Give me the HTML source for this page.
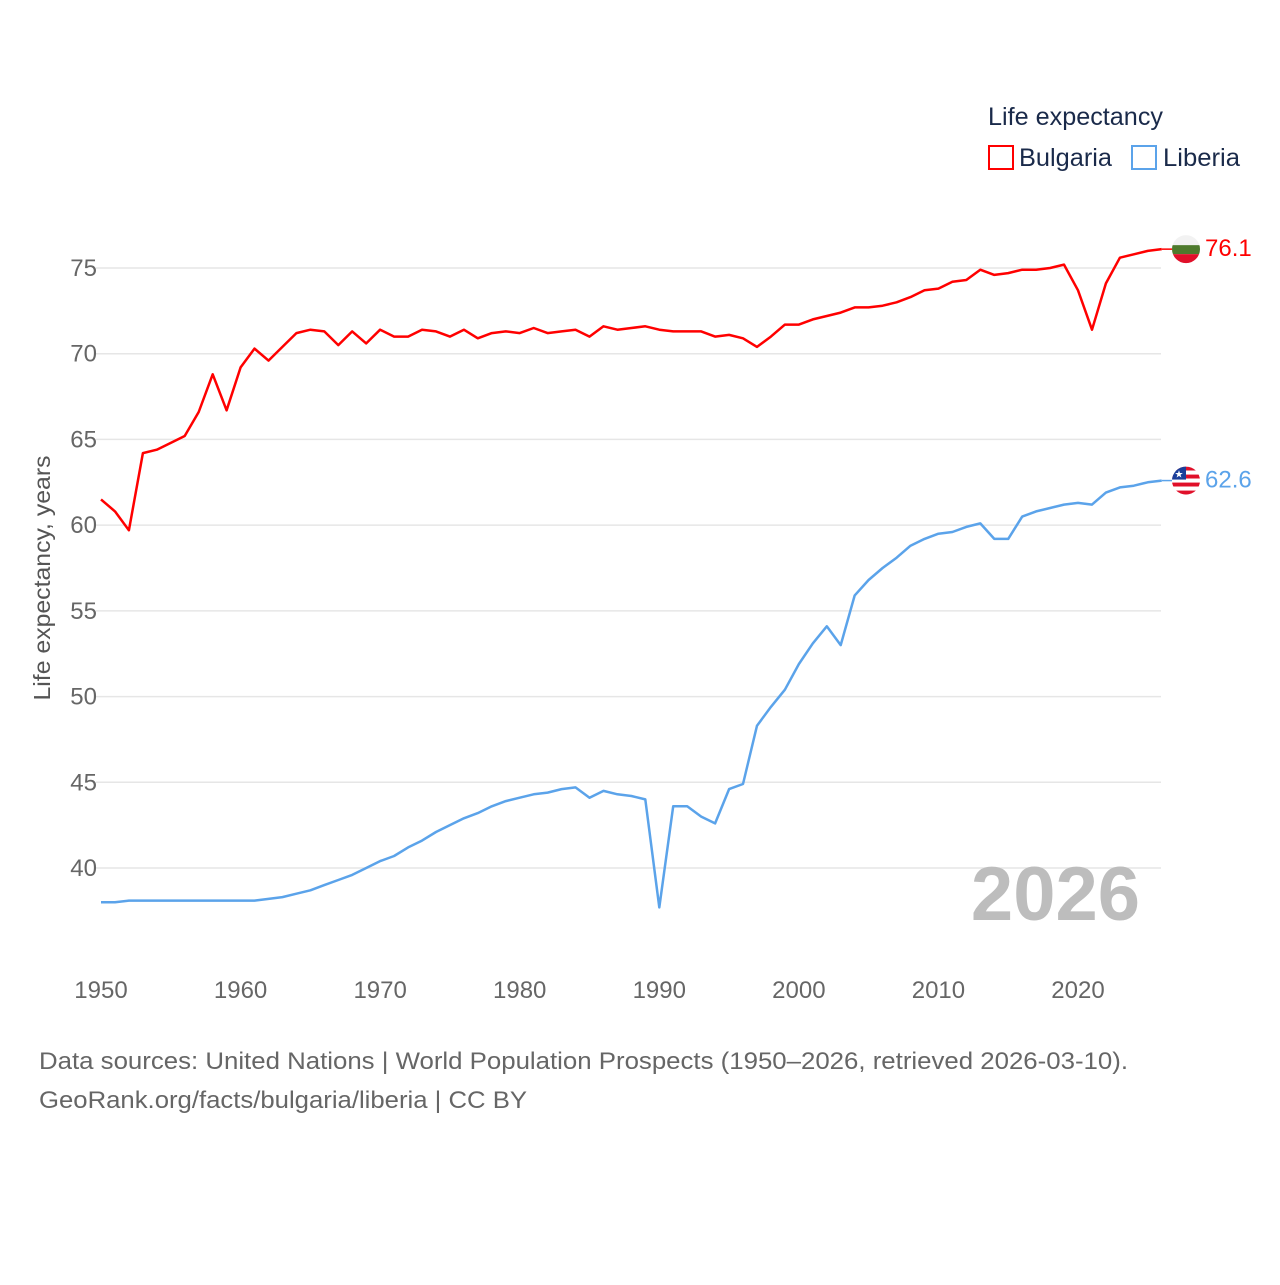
<!DOCTYPE html>
<html><head><meta charset="utf-8"><style>
body{margin:0;background:#fff;font-family:"Liberation Sans",sans-serif;}
svg text{font-family:"Liberation Sans",sans-serif;}
</style></head><body>
<svg id="chart" width="1280" height="1280" viewBox="0 0 1280 1280" xmlns="http://www.w3.org/2000/svg">
<g id="grid"></g>
<g id="yticks"></g>
<g id="xticks"></g>
<text transform="translate(50,578) rotate(-90)" text-anchor="middle" font-size="23" fill="#555" textLength="245" lengthAdjust="spacingAndGlyphs">Life expectancy, years</text>
<text x="1140" y="920" text-anchor="end" font-size="76" font-weight="bold" fill="#bdbdbd">2026</text>
<g id="series"></g>
<g>
<text x="988" y="125" font-size="25" fill="#1a2a4a" textLength="175" lengthAdjust="spacingAndGlyphs">Life expectancy</text>
<g><rect x="989" y="146" width="24" height="23" fill="none" stroke="#f00" stroke-width="2"/><text x="1019" y="166" font-size="25" fill="#1a2a4a" textLength="93" lengthAdjust="spacingAndGlyphs">Bulgaria</text></g>
<g><rect x="1132" y="146" width="24" height="23" fill="none" stroke="#5ba3ea" stroke-width="2"/><text x="1163" y="166" font-size="25" fill="#1a2a4a" textLength="77" lengthAdjust="spacingAndGlyphs">Liberia</text></g>
</g>
<text x="39" y="1069" font-size="24" fill="#666" textLength="1089" lengthAdjust="spacingAndGlyphs">Data sources: United Nations | World Population Prospects (1950–2026, retrieved 2026-03-10).</text>
<text x="39" y="1108" font-size="24" fill="#666" textLength="488" lengthAdjust="spacingAndGlyphs">GeoRank.org/facts/bulgaria/liberia | CC BY</text>
</svg>
<script>
const years = [];
for (let y = 1950; y <= 2026; y++) years.push(y);
const bulgaria = [61.5,60.8,59.7,64.2,64.4,64.8,65.2,66.6,68.8,66.7,69.2,70.3,69.6,70.4,71.2,71.4,71.3,70.5,71.3,70.6,71.4,71.0,71.0,71.4,71.3,71.0,71.4,70.9,71.2,71.3,71.2,71.5,71.2,71.3,71.4,71.0,71.6,71.4,71.5,71.6,71.4,71.3,71.3,71.3,71.0,71.1,70.9,70.4,71.0,71.7,71.7,72.0,72.2,72.4,72.7,72.7,72.8,73.0,73.3,73.7,73.8,74.2,74.3,74.9,74.6,74.7,74.9,74.9,75.0,75.2,73.7,71.4,74.1,75.6,75.8,76.0,76.1];
const liberia = [38.0,38.0,38.1,38.1,38.1,38.1,38.1,38.1,38.1,38.1,38.1,38.1,38.2,38.3,38.5,38.7,39.0,39.3,39.6,40.0,40.4,40.7,41.2,41.6,42.1,42.5,42.9,43.2,43.6,43.9,44.1,44.3,44.4,44.6,44.7,44.1,44.5,44.3,44.2,44.0,37.7,43.6,43.6,43.0,42.6,44.6,44.9,48.3,49.4,50.4,51.9,53.1,54.1,53.0,55.9,56.8,57.5,58.1,58.8,59.2,59.5,59.6,59.9,60.1,59.2,59.2,60.5,60.8,61.0,61.2,61.3,61.2,61.9,62.2,62.3,62.5,62.6];
const yTicks = [40,45,50,55,60,65,70,75];
const xTicks = [1950,1960,1970,1980,1990,2000,2010,2020];

const NS = "http://www.w3.org/2000/svg";
const x = yr => 101 + (yr - 1950) * (1078 - 101) / 70;
const y = v => 268 + (75 - v) * (868 - 268) / 35;
function mk(tag, attrs, parent){const e=document.createElementNS(NS,tag);for(const k in attrs)e.setAttribute(k,attrs[k]);parent.appendChild(e);return e;}

const grid=document.getElementById('grid'), yt=document.getElementById('yticks'), xt=document.getElementById('xticks'), ser=document.getElementById('series');
yTicks.forEach(v=>{
  const l=mk('line',{x1:96,x2:1161,y1:y(v),y2:y(v),stroke:'#e6e6e6','stroke-width':1.5},grid);
  
  
  const t=mk('text',{x:97,y:y(v)+8,'text-anchor':'end','font-size':24,fill:'#666'},yt);
  t.textContent=v;
  
  
});
xTicks.forEach(v=>{
  const t=mk('text',{x:x(v),y:998,'text-anchor':'middle','font-size':24,fill:'#666'},xt);
  t.textContent=v;
  
  
});
function drawSeries(vals,color,name,flag){
  const d=vals.map((v,i)=>(i?'L':'M')+x(years[i]).toFixed(1)+','+y(v).toFixed(1)).join('');
  const p=mk('path',{d:d,fill:'none',stroke:color,'stroke-width':2.5,'stroke-linejoin':'round'},ser);
  
  
  const last=vals[vals.length-1], ly=y(last), lx=x(years[years.length-1]);
  const g=mk('g',{},ser);
  
  
  mk('line',{x1:lx,x2:1172,y1:ly,y2:ly,stroke:color,'stroke-width':1.5},g);
  const cp=mk('clipPath',{id:'c'+name},g);
  mk('circle',{cx:1186,cy:ly,r:14},cp);
  const f=mk('g',{'clip-path':'url(#c'+name+')'},g);
  if(flag==='bg'){
    mk('rect',{x:1172,y:ly-14,width:28,height:10,fill:'#f2f2f2'},f);
    mk('rect',{x:1172,y:ly-4,width:28,height:9,fill:'#4e7a2d'},f);
    mk('rect',{x:1172,y:ly+5,width:28,height:10,fill:'#e0102a'},f);
  } else {
    for(let i=0;i<7;i++) mk('rect',{x:1172,y:ly-14+i*4,width:28,height:4,fill:i%2?'#fff':'#e0102a'},f);
    mk('rect',{x:1172,y:ly-14,width:14,height:13,fill:'#1a3f9a'},f);
    mk('text',{x:1179,y:ly-3,'font-size':10,fill:'#fff','text-anchor':'middle'},f).textContent='★';
  }
  const t=mk('text',{x:1205,y:ly+7,'font-size':24,fill:color},ser);
  t.textContent=last.toFixed(1);
  
  
}
drawSeries(liberia,'#5ba3ea','liberia','lr');
drawSeries(bulgaria,'#ff0000','bulgaria','bg');
</script>
</body></html>
